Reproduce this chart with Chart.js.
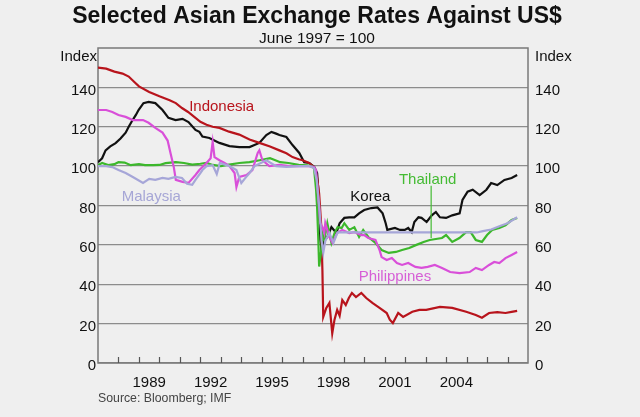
<!DOCTYPE html>
<html>
<head>
<meta charset="utf-8">
<script src="https://cdn.jsdelivr.net/npm/chart.js@4/dist/chart.umd.min.js"></script>
<style>
html,body{margin:0;padding:0;background:#efefef;}
#wrap{width:640px;height:417px;position:relative;}
canvas{display:block;}
</style>
</head>
<body>
<div id="wrap"><canvas id="c" width="640" height="417"></canvas></div>
<script>
// ---------- DATA (index, June 1997 = 100) ----------
const indonesiaYears = [1987.0,1987.4,1987.8,1988.2,1988.5,1988.8,1989.0,1989.5,1990.0,1990.5,1990.8,1991.1,1991.4,1991.7,1992.0,1992.3,1992.6,1992.93,1993.4,1993.9,1994.4,1994.88,1995.4,1995.86,1996.2,1996.5,1996.8,1997.0,1997.3,1997.5,1997.6,1997.7,1997.8,1997.9,1997.96,1998.0,1998.15,1998.3,1998.44,1998.55,1998.68,1998.8,1998.93,1999.1,1999.25,1999.4,1999.6,1999.86,2000.1,2000.4,2000.75,2001.1,2001.25,2001.4,2001.66,2001.9,2002.35,2002.7,2003.03,2003.7,2004.3,2004.98,2005.45,2005.75,2006.1,2006.5,2006.9,2007.2,2007.47];
const indonesiaValues = [150,149.5,148,147,145.5,142.5,140.5,137.7,135.5,133.5,132,129.5,127.5,125,122.5,121,120,119.4,117.5,116,113.5,111.8,110,108,106.5,104.6,103.5,103,101.6,100,98,94,86,70,47,23.4,28,30.5,15,22,27,24,32,29.5,33,35.6,33.5,35.6,33,30.5,28,25.4,22,20.3,25.4,23.4,26,27,27,28.5,28,26,24.4,23,25.4,25.8,25.4,26,26.5];

const koreaYears = [1987.0,1987.2,1987.37,1987.6,1987.86,1988.1,1988.35,1988.5,1988.69,1988.85,1988.98,1989.22,1989.47,1989.8,1990.15,1990.44,1990.79,1991.13,1991.42,1991.76,1991.95,1992.1,1992.44,1992.93,1993.42,1993.9,1994.4,1994.88,1995.22,1995.47,1995.7,1995.86,1996.2,1996.5,1996.83,1997.07,1997.32,1997.56,1997.7,1997.76,1997.8,1997.86,1997.92,1998.05,1998.2,1998.4,1998.64,1998.8,1999.03,1999.27,1999.52,1999.75,2000.0,2000.35,2000.65,2000.9,2001.05,2001.13,2001.5,2001.75,2001.98,2002.15,2002.32,2002.45,2002.65,2002.8,2003.05,2003.3,2003.5,2003.7,2004.0,2004.3,2004.66,2004.8,2005.05,2005.3,2005.64,2005.97,2006.2,2006.5,2006.85,2007.2,2007.47];
const koreaValues = [102,104,108,110,111.7,114,117,120,123.4,126,128.5,132,132.6,132,128.5,124.5,123.4,124,122.4,118.4,117.4,115,114.3,111.8,110.2,109.7,109.7,111.8,115.8,117.4,116.5,115.8,114.8,110.7,106.7,102,101.6,99.6,96.5,88,79,62.5,57,62,64,69,66,71,73.7,74,74,76,77.7,78.7,79,76,71,67.6,68.6,67.6,67.6,68.6,66.5,71.6,74,73.7,71.6,75,76.7,74,73.7,75,76,82.8,87,88,85.3,88,91.4,90.4,93,94,95.5];

const thailandYears = [1987.0,1987.2,1987.5,1987.8,1988.0,1988.3,1988.6,1989.0,1989.3,1989.7,1990.0,1990.3,1990.8,1991.2,1991.6,1992.0,1992.3,1992.6,1993.0,1993.4,1993.9,1994.4,1994.9,1995.4,1995.6,1995.9,1996.3,1996.8,1997.2,1997.45,1997.55,1997.65,1997.7,1997.76,1997.8,1997.9,1997.96,1998.05,1998.2,1998.4,1998.55,1998.7,1998.9,1999.03,1999.27,1999.52,1999.75,1999.95,2000.2,2000.55,2000.85,2001.2,2001.55,2001.85,2002.2,2002.55,2002.9,2003.2,2003.5,2003.8,2004.0,2004.3,2004.65,2004.98,2005.2,2005.45,2005.75,2006.0,2006.25,2006.6,2006.9,2007.2,2007.47];
const thailandValues = [100.5,101.6,100.5,101,102,101.8,100.5,101,100.5,100.5,100.6,101.5,102,101.6,100.8,101.2,101.6,100.6,100,100.8,101.6,102,103,104,103.2,102,101.6,100.6,100.4,100,99,88,79,62.5,49,57,66,62.5,71,61,66,69,68.6,71,67.6,69,64,67.6,64,61,57.4,55.9,56.4,57.4,58.4,60,61.5,62.5,63,63.5,65,61.5,63.5,66.5,66.5,62.5,61.5,65,67.6,68.6,70,72.6,73.7];

const philippinesYears = [1987.0,1987.4,1987.7,1988.0,1988.35,1988.7,1989.2,1989.47,1989.8,1990.15,1990.4,1990.54,1990.7,1990.8,1991.13,1991.42,1991.76,1991.95,1992.3,1992.5,1992.6,1992.69,1992.93,1993.18,1993.42,1993.67,1993.76,1993.9,1994.25,1994.54,1994.8,1994.88,1995.03,1995.37,1995.86,1996.35,1996.83,1997.32,1997.55,1997.65,1997.75,1997.86,1997.96,1998.05,1998.1,1998.3,1998.45,1998.68,1998.93,1999.27,1999.52,1999.86,2000.0,2000.2,2000.55,2000.75,2000.85,2001.1,2001.35,2001.6,2001.85,2002.15,2002.5,2002.8,2003.1,2003.45,2003.8,2004.2,2004.66,2005.15,2005.45,2005.75,2006.1,2006.35,2006.6,2006.9,2007.2,2007.47];
const philippinesValues = [128.5,128.5,127.5,126,125,123.4,123.4,122,119.4,117,113,106.7,99.6,93,92,91.5,95.5,98,101.6,104,112.3,104.6,103,101.6,100,96.5,89.4,94.5,95.5,98,106.7,108,103,100,100.6,100,100,100,99.5,98,85,71,69,66,71,64,61,66,67.6,66,66.5,65,65,63.5,62.5,57.4,53.8,52.3,53.3,50.8,49.8,50.8,48.8,48.3,48.8,49.8,48.3,46.2,45.7,46.2,48.3,47.2,49.8,51.3,50.8,53.3,54.9,56.4];

const malaysiaYears = [1987.0,1987.4,1987.7,1988.0,1988.35,1988.7,1989.2,1989.5,1989.8,1990.15,1990.44,1990.79,1991.1,1991.35,1991.6,1991.76,1992.0,1992.1,1992.3,1992.6,1992.8,1992.95,1993.42,1993.76,1994.0,1994.2,1994.4,1994.65,1995.22,1995.7,1996.2,1996.83,1997.32,1997.55,1997.68,1997.8,1997.92,1998.0,1998.1,1998.3,1998.5,1998.7,2005.5,2005.8,2006.2,2006.6,2007.0,2007.47];
const malaysiaValues = [100,100,99.5,98,96.5,94.5,91.5,93.5,93,94,93.5,94.5,94,91,90.5,93,96.5,98,100,100.5,96,101.6,100,98,91.4,94,96.5,100,103,100,99.6,100,100,99,93,80,62,56,62,66,61,66.3,66.3,67,67.8,69.5,71,74];

const yTickValues = [0,20,40,60,80,100,120,140];
const xLabelYears = [1989,1992,1995,1998,2001,2004];
const xMinYear = 1987, xMaxYear = 2008;

// ---------- STYLE ----------
const FONT = '"Liberation Sans", Arial, Helvetica, sans-serif';
const COLORS = {
  Indonesia: '#b8141c',
  Korea: '#111111',
  Thailand: '#3cb82c',
  Philippines: '#d94fd9',
  Malaysia: '#a6a6d8'
};
const seriesLabels = [
  {text:'Indonesia', x:1993.04, y:130, color:'#b8141c'},
  {text:'Malaysia', x:1989.6, y:84.5, color:'#a6a6d6'},
  {text:'Korea', x:2000.3, y:84.5, color:'#111111'},
  {text:'Thailand', x:2003.1, y:93, color:'#44bb33'},
  {text:'Philippines', x:2001.5, y:43.8, color:'#d65fd6'}
];
const thaiLeader = {x:2003.27, y1:90, y2:63.5};

function pts(xs, ys){ return xs.map((x,i)=>({x:x, y:ys[i]})); }
function ds(label, xs, ys){
  return {label:label, data:pts(xs,ys), borderColor:COLORS[label], borderWidth:2.2,
          pointRadius:0, tension:0, fill:false, yAxisID:'y'};
}

const bgPlugin = {
  id:'bg',
  beforeDraw(chart){
    const c = chart.ctx;
    c.save(); c.fillStyle = '#efefef'; c.fillRect(0,0,chart.width,chart.height); c.restore();
  }
};

const framePlugin = {
  id:'frame',
  beforeDatasetsDraw(chart){
    const c = chart.ctx, a = chart.chartArea, xs = chart.scales.x;
    c.save();
    c.strokeStyle = '#7a7a7a'; c.lineWidth = 1.5;
    c.strokeRect(a.left, a.top, a.right - a.left, a.bottom - a.top);
    c.strokeStyle = '#555'; c.lineWidth = 1.2;
    for (let yr = xMinYear + 1; yr < xMaxYear; yr++){
      const px = Math.round(xs.getPixelForValue(yr)) + 0.5;
      c.beginPath(); c.moveTo(px, a.bottom); c.lineTo(px, a.bottom - 6); c.stroke();
    }
    c.restore();
  }
};

const textPlugin = {
  id:'texts',
  afterDatasetsDraw(chart){
    const c = chart.ctx, xs = chart.scales.x, ys = chart.scales.y;
    c.save();
    c.strokeStyle = '#44bb33'; c.lineWidth = 1.2;
    c.beginPath();
    c.moveTo(xs.getPixelForValue(thaiLeader.x), ys.getPixelForValue(thaiLeader.y1));
    c.lineTo(xs.getPixelForValue(thaiLeader.x), ys.getPixelForValue(thaiLeader.y2));
    c.stroke();
    c.textAlign = 'center'; c.textBaseline = 'middle';
    c.font = '15px ' + FONT;
    seriesLabels.forEach(l=>{
      c.fillStyle = l.color;
      c.fillText(l.text, xs.getPixelForValue(l.x), ys.getPixelForValue(l.y));
    });
    c.restore();
  },
  afterDraw(chart){
    const c = chart.ctx, a = chart.chartArea;
    c.save();
    c.fillStyle = '#111';
    c.textAlign = 'center'; c.textBaseline = 'middle';
    c.font = 'bold 23px ' + FONT;
    c.fillText('Selected Asian Exchange Rates Against US$', 317, 17);
    c.font = '15.5px ' + FONT;
    c.fillText('June 1997 = 100', 317, 39);
    c.font = '15px ' + FONT;
    c.textAlign = 'right';
    c.fillText('Index', a.left - 1, 57);
    c.textAlign = 'left';
    c.fillText('Index', a.right + 7, 57);
    c.font = '12.3px ' + FONT;
    c.fillStyle = '#444';
    c.fillText('Source: Bloomberg; IMF', a.left, 399);
    c.restore();
  }
};

const tickFont = {family: FONT, size: 15};

new Chart(document.getElementById('c'), {
  type:'line',
  data:{
    datasets:[
      ds('Malaysia', malaysiaYears, malaysiaValues),
      ds('Philippines', philippinesYears, philippinesValues),
      ds('Thailand', thailandYears, thailandValues),
      ds('Indonesia', indonesiaYears, indonesiaValues),
      ds('Korea', koreaYears, koreaValues)
    ]
  },
  options:{
    responsive:false,
    devicePixelRatio:1,
    animation:false,
    layout:{autoPadding:false, padding:{top:48, bottom:0, left:0, right:0}},
    plugins:{legend:{display:false}, tooltip:{enabled:false}, title:{display:false}},
    scales:{
      x:{
        type:'linear', position:'bottom', min:xMinYear, max:xMaxYear,
        grid:{display:false}, border:{display:false},
        ticks:{font:tickFont, color:'#111', padding:3, autoSkip:false, maxRotation:0,
               callback:(v)=>String(Math.floor(v))},
        afterBuildTicks:(s)=>{ s.ticks = xLabelYears.map(y=>({value:y+0.5})); },
        afterFit:(s)=>{ s.height = 54; }
      },
      y:{
        type:'linear', position:'left', min:0, max:160,
        grid:{color:'#8c8c8c', lineWidth:1.3, drawTicks:false},
        border:{display:false},
        ticks:{font:tickFont, color:'#111', padding:2, labelOffset:3},
        afterBuildTicks:(s)=>{ s.ticks = yTickValues.map(v=>({value:v})); },
        afterFit:(s)=>{ s.width = 98; }
      },
      y2:{
        type:'linear', position:'right', min:0, max:160,
        grid:{display:false, drawTicks:false},
        border:{display:false},
        ticks:{font:tickFont, color:'#111', padding:7, labelOffset:3},
        afterBuildTicks:(s)=>{ s.ticks = yTickValues.map(v=>({value:v})); },
        afterFit:(s)=>{ s.width = 112; }
      }
    }
  },
  plugins:[bgPlugin, framePlugin, textPlugin]
});
</script>
</body>
</html>
